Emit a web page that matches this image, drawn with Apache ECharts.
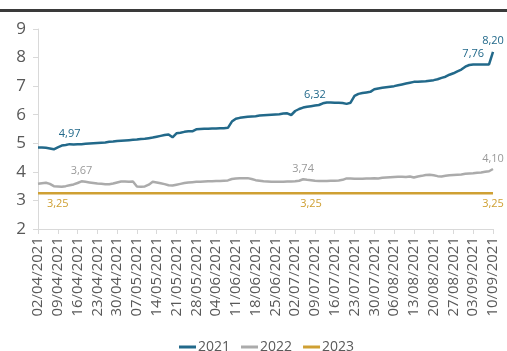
<!DOCTYPE html>
<html>
<head>
<meta charset="utf-8">
<script src="https://cdn.jsdelivr.net/npm/echarts@6/dist/echarts.min.js"></script>
<style>
  html, body { margin: 0; padding: 0; background: #fff; }
  #chart { width: 507px; height: 351px; }
</style>
</head>
<body>
<div id="chart"></div>
<script>
// Business days, 02/04/2021 – 10/09/2021
const dates = [
  '02/04/2021',
  '05/04/2021','06/04/2021','07/04/2021','08/04/2021','09/04/2021',
  '12/04/2021','13/04/2021','14/04/2021','15/04/2021','16/04/2021',
  '19/04/2021','20/04/2021','21/04/2021','22/04/2021','23/04/2021',
  '26/04/2021','27/04/2021','28/04/2021','29/04/2021','30/04/2021',
  '03/05/2021','04/05/2021','05/05/2021','06/05/2021','07/05/2021',
  '10/05/2021','11/05/2021','12/05/2021','13/05/2021','14/05/2021',
  '17/05/2021','18/05/2021','19/05/2021','20/05/2021','21/05/2021',
  '24/05/2021','25/05/2021','26/05/2021','27/05/2021','28/05/2021',
  '31/05/2021','01/06/2021','02/06/2021','03/06/2021','04/06/2021',
  '07/06/2021','08/06/2021','09/06/2021','10/06/2021','11/06/2021',
  '14/06/2021','15/06/2021','16/06/2021','17/06/2021','18/06/2021',
  '21/06/2021','22/06/2021','23/06/2021','24/06/2021','25/06/2021',
  '28/06/2021','29/06/2021','30/06/2021','01/07/2021','02/07/2021',
  '05/07/2021','06/07/2021','07/07/2021','08/07/2021','09/07/2021',
  '12/07/2021','13/07/2021','14/07/2021','15/07/2021','16/07/2021',
  '19/07/2021','20/07/2021','21/07/2021','22/07/2021','23/07/2021',
  '26/07/2021','27/07/2021','28/07/2021','29/07/2021','30/07/2021',
  '02/08/2021','03/08/2021','04/08/2021','05/08/2021','06/08/2021',
  '09/08/2021','10/08/2021','11/08/2021','12/08/2021','13/08/2021',
  '16/08/2021','17/08/2021','18/08/2021','19/08/2021','20/08/2021',
  '23/08/2021','24/08/2021','25/08/2021','26/08/2021','27/08/2021',
  '30/08/2021','31/08/2021','01/09/2021','02/09/2021','03/09/2021',
  '06/09/2021','07/09/2021','08/09/2021','09/09/2021','10/09/2021'
];

const seriesNames = ['2021', '2022', '2023'];

const values2021 = [
  4.85,
  4.85, 4.84, 4.82, 4.79, 4.86,
  4.92, 4.94, 4.97, 4.96, 4.97,
  4.97, 4.98, 4.99, 5.00, 5.01,
  5.02, 5.03, 5.05, 5.06, 5.08,
  5.09, 5.10, 5.11, 5.12, 5.13,
  5.15, 5.16, 5.18, 5.20, 5.23,
  5.26, 5.29, 5.31, 5.21, 5.35,
  5.37, 5.40, 5.42, 5.42, 5.49,
  5.50, 5.51, 5.51, 5.52, 5.52,
  5.53, 5.53, 5.54, 5.76, 5.86,
  5.89, 5.91, 5.93, 5.94, 5.95,
  5.97, 5.98, 5.99, 6.00, 6.01,
  6.02, 6.04, 6.05, 5.99, 6.13,
  6.20, 6.25, 6.28, 6.30, 6.32,
  6.34, 6.40, 6.43, 6.43, 6.42,
  6.42, 6.41, 6.38, 6.42, 6.66,
  6.73, 6.76, 6.78, 6.80, 6.89,
  6.92, 6.94, 6.96, 6.98, 7.00,
  7.03, 7.06, 7.09, 7.12, 7.15,
  7.15, 7.16, 7.17, 7.19, 7.21,
  7.24, 7.29, 7.33, 7.40, 7.45,
  7.52, 7.58, 7.68, 7.74, 7.76,
  7.76, 7.76, 7.76, 7.76, 8.20
];

const values2022 = [
  3.58,
  3.60, 3.62, 3.58, 3.50, 3.49,
  3.48, 3.50, 3.53, 3.56, 3.61,
  3.67, 3.65, 3.63, 3.61, 3.59,
  3.58, 3.57, 3.57, 3.59, 3.63,
  3.66, 3.66, 3.65, 3.66, 3.49,
  3.48, 3.49, 3.55, 3.65, 3.63,
  3.60, 3.57, 3.53, 3.52, 3.55,
  3.58, 3.61, 3.63, 3.64, 3.65,
  3.65, 3.66, 3.67, 3.67, 3.68,
  3.68, 3.69, 3.70, 3.75, 3.77,
  3.78, 3.78, 3.78, 3.75, 3.71,
  3.69, 3.67, 3.66, 3.65, 3.65,
  3.65, 3.65, 3.66, 3.66, 3.67,
  3.69, 3.74, 3.72, 3.71, 3.69,
  3.68, 3.68, 3.68, 3.69, 3.69,
  3.70, 3.72, 3.77, 3.77, 3.76,
  3.76, 3.76, 3.77, 3.77, 3.78,
  3.77, 3.79, 3.80, 3.81, 3.82,
  3.83, 3.83, 3.82, 3.84, 3.80,
  3.84, 3.86, 3.89, 3.90, 3.88,
  3.85, 3.84, 3.86, 3.88, 3.89,
  3.90, 3.91, 3.93, 3.94, 3.95,
  3.97, 3.98, 4.00, 4.02, 4.10
];

const values2023 = [
  3.25,
  3.25, 3.25, 3.25, 3.25, 3.25,
  3.25, 3.25, 3.25, 3.25, 3.25,
  3.25, 3.25, 3.25, 3.25, 3.25,
  3.25, 3.25, 3.25, 3.25, 3.25,
  3.25, 3.25, 3.25, 3.25, 3.25,
  3.25, 3.25, 3.25, 3.25, 3.25,
  3.25, 3.25, 3.25, 3.25, 3.25,
  3.25, 3.25, 3.25, 3.25, 3.25,
  3.25, 3.25, 3.25, 3.25, 3.25,
  3.25, 3.25, 3.25, 3.25, 3.25,
  3.25, 3.25, 3.25, 3.25, 3.25,
  3.25, 3.25, 3.25, 3.25, 3.25,
  3.25, 3.25, 3.25, 3.25, 3.25,
  3.25, 3.25, 3.25, 3.25, 3.25,
  3.25, 3.25, 3.25, 3.25, 3.25,
  3.25, 3.25, 3.25, 3.25, 3.25,
  3.25, 3.25, 3.25, 3.25, 3.25,
  3.25, 3.25, 3.25, 3.25, 3.25,
  3.25, 3.25, 3.25, 3.25, 3.25,
  3.25, 3.25, 3.25, 3.25, 3.25,
  3.25, 3.25, 3.25, 3.25, 3.25,
  3.25, 3.25, 3.25, 3.25, 3.25,
  3.25, 3.25, 3.25, 3.25, 3.25
];

// Points that carry a value label
const labeled2021 = [8, 70, 110, 115];
const labeled2022 = [11, 67, 115];
const labeled2023 = [5, 69, 115];

const yTicks = [2, 3, 4, 5, 6, 7, 8, 9];

const colors = ['#22698a', '#ababab', '#cfa033'];
const FONT = '"Open Sans", "Liberation Sans", sans-serif';

function fmt(v) { return v.toFixed(2).replace('.', ','); }

function buildData(values, labeled, color, position) {
  return values.map((v, i) => {
    if (labeled.indexOf(i) < 0) return v;
    return {
      value: v,
      label: {
        show: true,
        position: position,
        distance: 5,
        color: color,
        fontSize: 11,
        fontFamily: FONT,
        formatter: (p) => fmt(p.value)
      }
    };
  });
}

function lineSeries(idx, values, labeled, labelColor, position, z) {
  return {
    name: seriesNames[idx],
    type: 'line',
    symbol: 'circle',
    symbolSize: 0,
    showSymbol: true,
    showAllSymbol: true,
    lineStyle: { width: 2.5, color: colors[idx] },
    itemStyle: { color: colors[idx] },
    label: { show: false },
    labelLayout: { hideOverlap: false },
    data: buildData(values, labeled, labelColor, position),
    z: z
  };
}

const chart = echarts.init(document.getElementById('chart'), null, { renderer: 'canvas' });

chart.setOption({
  animation: false,
  backgroundColor: '#ffffff',
  color: colors,
  graphic: [{
    type: 'rect',
    shape: { x: 0, y: 9, width: 507, height: 3 },
    style: { fill: '#3a3a3a' }
  }],
  grid: { left: 38, right: 14, top: 29, bottom: 122 },
  legend: {
    top: 335,
    left: 174,
    itemWidth: 17,
    itemHeight: 3,
    itemGap: 11,
    icon: 'rect',
    textStyle: { color: '#595959', fontSize: 14, fontFamily: FONT, padding: [0, 0, 0, -3] },
    data: seriesNames
  },
  xAxis: {
    type: 'category',
    data: dates,
    boundaryGap: false,
    axisLine: { lineStyle: { color: '#d9d9d9', width: 1 } },
    axisTick: { show: true, interval: 4, length: 5, lineStyle: { color: '#d9d9d9' } },
    axisLabel: {
      interval: 4,
      rotate: 90,
      margin: 8,
      color: '#595959',
      fontSize: 15,
      fontFamily: FONT
    },
    splitLine: { show: false }
  },
  yAxis: {
    type: 'value',
    min: yTicks[0],
    max: yTicks[yTicks.length - 1],
    interval: 1,
    axisLine: { show: true, lineStyle: { color: '#d9d9d9', width: 1 } },
    axisTick: { show: true, length: 5, lineStyle: { color: '#d9d9d9' } },
    axisLabel: {
      color: '#595959',
      fontSize: 17,
      fontFamily: FONT,
      margin: 12
    },
    splitLine: { show: false }
  },
  series: [
    lineSeries(0, values2021, labeled2021, colors[0], 'top', 4),
    lineSeries(1, values2022, labeled2022, '#9a9a9a', 'top', 3),
    lineSeries(2, values2023, labeled2023, colors[2], 'bottom', 2)
  ]
});
</script>
</body>
</html>
